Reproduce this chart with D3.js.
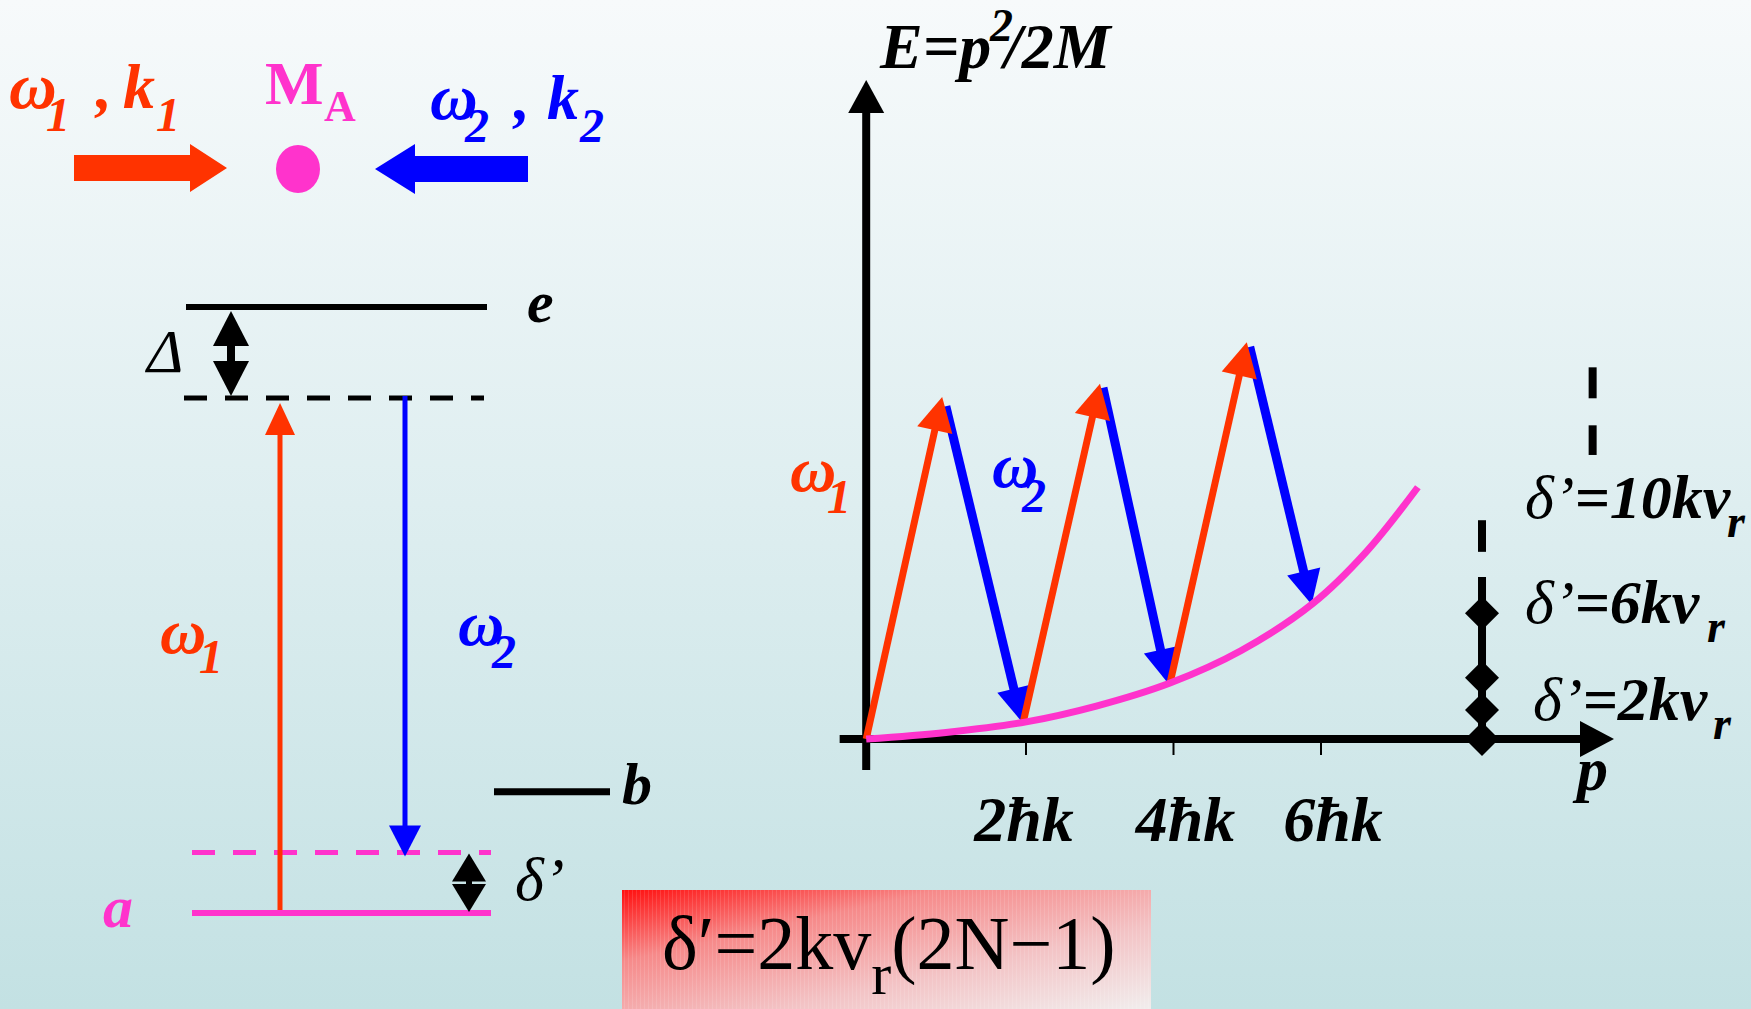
<!DOCTYPE html>
<html>
<head>
<meta charset="utf-8">
<script src="https://cdn.jsdelivr.net/npm/d3@7"></script>
<style>
  html, body { margin: 0; padding: 0; overflow: hidden; background: #ffffff; }
  svg { display: block; }
</style>
</head>
<body>
<svg id="fig" width="1751" height="1009"></svg>
<script>
// ---------- data ----------
// three-level scheme: level energies (arbitrary units)
const levelNames  = ["a", "a+δ’", "b", "virtual", "e"];
const levelEnergy = [0, 10, 20, 85, 100];

// kinetic-energy parabola E = p²/2M, p in units of ħk (sampled)
const curveP = [-0.16, 0.92, 2.01, 2.96, 3.96, 4.92, 5.90, 6.62, 7.32];
const curveE = [0, 1.0, 2.6, 5.0, 8.5, 13.4, 20.6, 28.4, 38.2];

// Raman steps: ω1 absorption (up) and ω2 stimulated emission (down)
const upFromP   = [-0.16, 1.97, 3.96];
const upFromE   = [0, 2.6, 8.5];
const upToP     = [0.87, 3.01, 5.00];
const upToE     = [51.9, 53.9, 60.2];
const downFromP = [0.92, 3.05, 5.04];
const downFromE = [50.5, 53.3, 59.5];
const downToP   = [1.95, 3.93, 5.88];
const downToE   = [2.6, 8.5, 20.4];

// momentum axis ticks
const tickValues = [2, 4, 6];
const tickLabels = ["2ħk", "4ħk", "6ħk"];

// detuning markers on the resonance ladder
const ladderP        = 8.19;
const ladderMarksE   = [0, 4.4, 9.3, 19.1];
const ladderSolidE   = [0, 24.6];
const ladderDashE    = [28.4, 33.2];
const upperLadderP   = 9.69;
const upperDashesE   = [[43.1, 47.6], [51.7, 56.4]];
const detuningValues = ["10", "6", "2"];

// ---------- setup ----------
const RED = "#ff3300", BLUE = "#0000ff", MAG = "#ff33cc", BLK = "#000000";
const SERIF = "'Liberation Serif', 'Times New Roman', serif";

const svg = d3.select("#fig");
const defs = svg.append("defs");

const bg = defs.append("linearGradient").attr("id", "bg")
  .attr("x1", 0).attr("y1", 0).attr("x2", 0).attr("y2", 1);
bg.append("stop").attr("offset", 0).attr("stop-color", "#f7fafb");
bg.append("stop").attr("offset", 0.5).attr("stop-color", "#deeef0");
bg.append("stop").attr("offset", 1).attr("stop-color", "#c3e1e3");
svg.append("rect").attr("width", 1751).attr("height", 1009).attr("fill", "url(#bg)");

function txt(g, x, y, s, size, color, opts = {}) {
  return g.append("text")
    .attr("x", x).attr("y", y)
    .attr("font-family", SERIF)
    .attr("font-size", size)
    .attr("font-weight", opts.weight || "bold")
    .attr("font-style", opts.style || "italic")
    .attr("fill", color)
    .text(s);
}

function arrow(g, x0, y0, x1, y1, color, width, headLen, headHalf) {
  const dx = x1 - x0, dy = y1 - y0, L = Math.hypot(dx, dy);
  const ux = dx / L, uy = dy / L;
  const bx = x1 - ux * headLen, by = y1 - uy * headLen;
  g.append("line")
    .attr("x1", x0).attr("y1", y0)
    .attr("x2", bx + ux * 2).attr("y2", by + uy * 2)
    .attr("stroke", color).attr("stroke-width", width);
  g.append("path")
    .attr("d", `M${x1},${y1}L${bx - uy * headHalf},${by + ux * headHalf}L${bx + uy * headHalf},${by - ux * headHalf}Z`)
    .attr("fill", color);
}

function doubleArrow(g, x, yTop, yBot, headLen, headHalf, stem) {
  g.append("line").attr("x1", x).attr("x2", x)
    .attr("y1", yTop + headLen - 1).attr("y2", yBot - headLen + 1)
    .attr("stroke", BLK).attr("stroke-width", stem);
  g.append("path").attr("d", `M${x},${yTop}L${x - headHalf},${yTop + headLen}L${x + headHalf},${yTop + headLen}Z`).attr("fill", BLK);
  g.append("path").attr("d", `M${x},${yBot}L${x - headHalf},${yBot - headLen}L${x + headHalf},${yBot - headLen}Z`).attr("fill", BLK);
}

function blockArrow(g, xTail, xTip, yc, shaftHalf, headHalf, headLen, color) {
  const s = Math.sign(xTip - xTail);
  const xb = xTip - s * headLen;
  g.append("path")
    .attr("d", `M${xTail},${yc - shaftHalf}L${xb},${yc - shaftHalf}L${xb},${yc - headHalf}L${xTip},${yc}` +
               `L${xb},${yc + headHalf}L${xb},${yc + shaftHalf}L${xTail},${yc + shaftHalf}Z`)
    .attr("fill", color);
}

// ---------- top: counter-propagating beams ----------
const beams = svg.append("g");
txt(beams, 9, 108, "ω", 66, RED);
txt(beams, 46, 131, "1", 48, RED);
txt(beams, 96, 108, ",", 64, RED);
txt(beams, 123, 108, "k", 64, RED);
txt(beams, 156, 131, "1", 48, RED);

txt(beams, 265, 104, "M", 62, MAG, { style: "normal" });
txt(beams, 324, 121, "A", 44, MAG, { style: "normal" });

txt(beams, 430, 119, "ω", 66, BLUE);
txt(beams, 465, 142, "2", 48, BLUE);
txt(beams, 514, 119, ",", 64, BLUE);
txt(beams, 547, 119, "k", 64, BLUE);
txt(beams, 580, 142, "2", 48, BLUE);

blockArrow(beams, 74, 227, 168, 13, 24, 37, RED);
beams.append("ellipse").attr("cx", 298).attr("cy", 169).attr("rx", 22).attr("ry", 24).attr("fill", MAG);
blockArrow(beams, 528, 375, 169, 13, 25, 40, BLUE);

// ---------- left: level scheme ----------
const yL = d3.scaleLinear().domain([0, 100]).range([913, 307]);
const lv = svg.append("g");
const E = name => levelEnergy[levelNames.indexOf(name)];

lv.append("line").attr("x1", 186).attr("x2", 487).attr("y1", yL(E("e"))).attr("y2", yL(E("e")))
  .attr("stroke", BLK).attr("stroke-width", 6);
lv.append("line").attr("x1", 184).attr("x2", 484).attr("y1", yL(E("virtual"))).attr("y2", yL(E("virtual")))
  .attr("stroke", BLK).attr("stroke-width", 5).attr("stroke-dasharray", "23 18");
lv.append("line").attr("x1", 494).attr("x2", 610).attr("y1", yL(E("b"))).attr("y2", yL(E("b")))
  .attr("stroke", BLK).attr("stroke-width", 7);
lv.append("line").attr("x1", 192).attr("x2", 491).attr("y1", yL(E("a+δ’"))).attr("y2", yL(E("a+δ’")))
  .attr("stroke", MAG).attr("stroke-width", 5).attr("stroke-dasharray", "23 18");
lv.append("line").attr("x1", 192).attr("x2", 491).attr("y1", yL(E("a"))).attr("y2", yL(E("a")))
  .attr("stroke", MAG).attr("stroke-width", 6);

// ω1 up from a to the virtual level, ω2 down to a+δ'
arrow(lv, 280, yL(E("a")) - 3, 280, yL(E("virtual")) + 5, RED, 5, 32, 15);
arrow(lv, 405, yL(E("virtual")) - 2, 405, yL(E("a+δ’")) + 4, BLUE, 5, 31, 16);

doubleArrow(lv, 231, yL(E("e")) + 4, yL(E("virtual")) - 2, 35, 18, 8);
doubleArrow(lv, 469, yL(E("a+δ’")) + 1, yL(E("a")) - 1, 28, 17, 6);

txt(lv, 527, 322, "e", 60, BLK);
txt(lv, 622, 804, "b", 60, BLK);
txt(lv, 103, 927, "a", 60, MAG);
txt(lv, 147, 372, "Δ", 62, BLK, { weight: "normal" });
txt(lv, 515, 900, "δ’", 62, BLK, { weight: "normal" });

txt(lv, 160, 653, "ω", 64, RED);
txt(lv, 199, 673, "1", 48, RED);
txt(lv, 458, 645, "ω", 64, BLUE);
txt(lv, 492, 668, "2", 48, BLUE);

// ---------- right: momentum-space picture ----------
const x = d3.scaleLinear().domain([0, 6]).range([878, 1320.5]);
const y = d3.scaleLinear().domain([0, 100]).range([739, 80]);
const rp = svg.append("g");

// axes with arrowheads
arrow(rp, x(-0.16), y(-4.7), x(-0.16), y(100), BLK, 8, 33, 18);
arrow(rp, x(-0.52), y(0), x(9.98), y(0), BLK, 8, 34, 18);

const tickLabelNudge = [-2, 12, 12];
const ax = rp.append("g").attr("transform", `translate(0,${y(0)})`)
  .call(d3.axisBottom(x).tickValues(tickValues).tickFormat((d, i) => tickLabels[i])
        .tickSize(16).tickPadding(41));
ax.select(".domain").remove();
ax.selectAll(".tick line").attr("stroke", BLK).attr("stroke-width", 2);
ax.selectAll(".tick text")
  .attr("dx", (d, i) => tickLabelNudge[i])
  .attr("font-family", SERIF).attr("font-size", 64)
  .attr("font-weight", "bold").attr("font-style", "italic").attr("fill", BLK);

// ω2 (down) beneath, ω1 (up) above, parabola on top
for (let i = 0; i < downFromP.length; i++) {
  arrow(rp, x(downFromP[i]), y(downFromE[i]), x(downToP[i]), y(downToE[i]), BLUE, 9, 34, 17);
}
for (let i = 0; i < upFromP.length; i++) {
  arrow(rp, x(upFromP[i]), y(upFromE[i]), x(upToP[i]), y(upToE[i]), RED, 7, 34, 18);
}
const curve = d3.line().x(d => x(d[0])).y(d => y(d[1])).curve(d3.curveCatmullRom);
rp.append("path").datum(curveP.map((p, i) => [p, curveE[i]]))
  .attr("d", curve).attr("fill", "none").attr("stroke", MAG).attr("stroke-width", 7);

// resonance ladder
rp.append("line").attr("x1", x(ladderP)).attr("x2", x(ladderP))
  .attr("y1", y(ladderSolidE[0])).attr("y2", y(ladderSolidE[1]))
  .attr("stroke", BLK).attr("stroke-width", 8);
rp.append("line").attr("x1", x(ladderP)).attr("x2", x(ladderP))
  .attr("y1", y(ladderDashE[0])).attr("y2", y(ladderDashE[1]))
  .attr("stroke", BLK).attr("stroke-width", 8);
rp.selectAll(".mark").data(ladderMarksE).enter().append("path")
  .attr("d", e => `M${x(ladderP)},${y(e) - 17}L${x(ladderP) + 17},${y(e)}L${x(ladderP)},${y(e) + 17}L${x(ladderP) - 17},${y(e)}Z`)
  .attr("fill", BLK);
rp.selectAll(".udash").data(upperDashesE).enter().append("line")
  .attr("x1", x(upperLadderP)).attr("x2", x(upperLadderP))
  .attr("y1", d => y(d[0])).attr("y2", d => y(d[1]))
  .attr("stroke", BLK).attr("stroke-width", 8);

// labels
const lab = svg.append("g");
txt(lab, 880, 68, "E=p", 64, BLK);
txt(lab, 990, 41, "2", 46, BLK);
txt(lab, 1004, 68, "/2M", 64, BLK);
txt(lab, 1577, 790, "p", 62, BLK);

txt(lab, 790, 491, "ω", 64, RED);
txt(lab, 827, 513, "1", 48, RED);
txt(lab, 992, 487, "ω", 64, BLUE);
txt(lab, 1022, 512, "2", 48, BLUE);

const detX = [1525, 1525, 1533];
const detY = [518, 623, 720];
const subX = [1727, 1707, 1713];
detuningValues.forEach((v, i) => {
  const t = lab.append("text").attr("x", detX[i]).attr("y", detY[i])
    .attr("font-family", SERIF).attr("font-size", 62).attr("fill", BLK)
    .attr("font-style", "italic");
  t.append("tspan").attr("font-weight", "normal").text("δ’");
  t.append("tspan").attr("font-weight", "bold").text("=" + v + "kv");
  txt(lab, subX[i], detY[i] + 19, "r", 46, BLK);
});

// ---------- formula box ----------
const fg = defs.append("linearGradient").attr("id", "fbox")
  .attr("x1", 0).attr("y1", 0).attr("x2", 1).attr("y2", 1);
fg.append("stop").attr("offset", 0).attr("stop-color", "#ff1010");
fg.append("stop").attr("offset", 0.3).attr("stop-color", "#f68a8a");
fg.append("stop").attr("offset", 0.65).attr("stop-color", "#f3c3c5");
fg.append("stop").attr("offset", 1).attr("stop-color", "#f1eded");
const stripes = defs.append("pattern").attr("id", "stripes")
  .attr("width", 4).attr("height", 10).attr("patternUnits", "userSpaceOnUse");
stripes.append("rect").attr("width", 1).attr("height", 10).attr("fill", "#ffffff").attr("opacity", 0.12);

const box = svg.append("g");
box.append("rect").attr("x", 622).attr("y", 890).attr("width", 529).attr("height", 119).attr("fill", "url(#fbox)");
box.append("rect").attr("x", 622).attr("y", 890).attr("width", 529).attr("height", 119).attr("fill", "url(#stripes)");
const ft = box.append("text").attr("x", 662).attr("y", 969)
  .attr("font-family", SERIF).attr("font-size", 76).attr("fill", BLK);
ft.append("tspan").text("δ′=2kv");
ft.append("tspan").attr("dy", 25).attr("font-size", 60).text("r");
ft.append("tspan").attr("dy", -25).text("(2N−1)");
</script>
</body>
</html>
